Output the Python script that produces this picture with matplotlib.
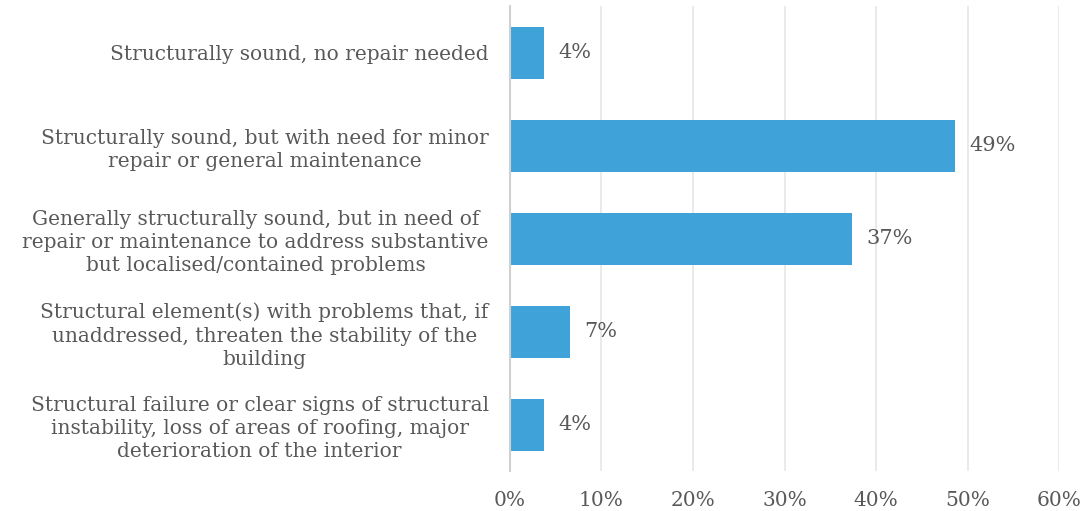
import matplotlib
matplotlib.use("Agg")
import matplotlib.pyplot as plt
from matplotlib.ticker import FuncFormatter, MultipleLocator

categories = [
    "Structurally sound, no repair needed",
    "Structurally sound, but with need for minor\nrepair or general maintenance",
    "Generally structurally sound, but in need of\nrepair or maintenance to address substantive\nbut localised/contained problems",
    "Structural element(s) with problems that, if\nunaddressed, threaten the stability of the\nbuilding",
    "Structural failure or clear signs of structural\ninstability, loss of areas of roofing, major\ndeterioration of the interior",
]
shares = [3.8, 48.6, 37.4, 6.6, 3.8]

BAR = "#3fa3d9"
TEXT = "#595959"
plt.rcParams["font.family"] = ["DejaVu Serif"]

fig = plt.figure(figsize=(10.89, 5.11), dpi=100)
ax = fig.add_axes([0.4679, 0.078, 0.505, 0.910])

y = list(range(len(categories)))
ax.barh(y, shares, height=0.56, color=BAR, zorder=3)
ax.set_ylim(len(categories) - 0.5, -0.5)
ax.set_xlim(0, 60)

for yi, v in zip(y, shares):
    ax.annotate(f"{v:.0f}%", (v, yi), xytext=(10, 0), textcoords="offset points",
                va="center", ha="left", fontsize=15, color=TEXT)

ax.set_yticks(y)
ax.set_yticklabels(categories, fontsize=14.5, color=TEXT, multialignment="center",
                   linespacing=1.28)
ax.tick_params(axis="y", length=0, pad=15)
ax.xaxis.set_major_locator(MultipleLocator(10))
ax.xaxis.set_major_formatter(FuncFormatter(lambda v, _: f"{v:.0f}%"))
ax.tick_params(axis="x", length=0, labelsize=14.5, labelcolor=TEXT, pad=14)

ax.grid(axis="x", color="#e6e6e6", linewidth=1.2, zorder=0)
for s in ["top", "right", "bottom"]:
    ax.spines[s].set_visible(False)
ax.spines["left"].set_color("#d0d0d0")
ax.spines["left"].set_linewidth(1.5)
ax.spines["left"].set_zorder(4)

fig.savefig("out.png", dpi=100)
